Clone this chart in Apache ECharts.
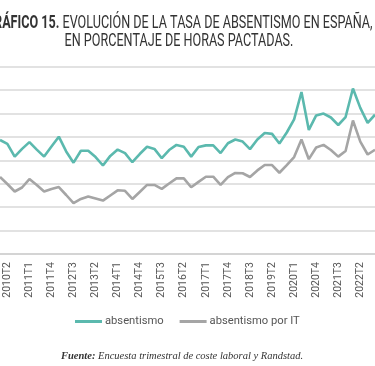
<!DOCTYPE html>
<html><head><meta charset="utf-8">
<script src="https://cdn.jsdelivr.net/npm/echarts@6/dist/echarts.min.js"></script>
<style>html,body{margin:0;padding:0;background:#fff}#c{width:375px;height:366px}</style>
</head><body><div id="c"></div>
<script>
const categories = [
 '2010T1','2010T2','2010T3','2010T4','2011T1','2011T2','2011T3','2011T4',
 '2012T1','2012T2','2012T3','2012T4','2013T1','2013T2','2013T3','2013T4',
 '2014T1','2014T2','2014T3','2014T4','2015T1','2015T2','2015T3','2015T4',
 '2016T1','2016T2','2016T3','2016T4','2017T1','2017T2','2017T3','2017T4',
 '2018T1','2018T2','2018T3','2018T4','2019T1','2019T2','2019T3','2019T4',
 '2020T1','2020T2','2020T3','2020T4','2021T1','2021T2','2021T3','2021T4',
 '2022T1','2022T2','2022T3','2022T4'
];
const absentismo = [
 4.87,4.70,4.16,4.49,4.78,4.46,4.16,4.59,
 5.01,4.38,3.90,4.41,4.41,4.14,3.78,4.19,
 4.46,4.31,3.92,4.27,4.58,4.49,4.09,4.44,
 4.66,4.58,4.16,4.57,4.64,4.64,4.31,4.73,
 4.89,4.80,4.48,4.89,5.17,5.13,4.72,5.19,
 5.75,6.92,5.30,5.92,6.00,5.83,5.51,5.85,
 7.07,6.24,5.60,5.95
];
const absentismoIT = [
 3.29,2.99,2.67,2.84,3.20,2.95,2.67,2.78,
 2.86,2.52,2.17,2.35,2.46,2.37,2.28,2.50,
 2.72,2.70,2.35,2.65,2.95,2.95,2.78,3.01,
 3.23,3.23,2.85,3.08,3.30,3.30,2.95,3.28,
 3.46,3.45,3.29,3.57,3.80,3.80,3.47,3.80,
 4.14,4.89,4.05,4.55,4.66,4.44,4.16,4.40,
 5.70,4.80,4.25,4.45
];
const seriesNames = ['absentismo','absentismo por IT'];
const titleBold = 'GRÁFICO 15.';
const titleRest = ' EVOLUCIÓN DE LA TASA DE ABSENTISMO EN ESPAÑA,';
const titleLine2 = 'EN PORCENTAJE DE HORAS PACTADAS.';
const sourceBold = 'Fuente:';
const sourceRest = ' Encuesta trimestral de coste laboral y Randstad.';

const TF = "Roboto,'Liberation Sans',sans-serif";
const chart = echarts.init(document.getElementById('c'), null, {renderer:'canvas'});
chart.setOption({
  animation:false,
  backgroundColor:'#fff',
  graphic:[
    {type:'text', x:179, y:14, scaleX:0.70, style:{
      text:'{b|'+titleBold+'}{n|'+titleRest+'}', align:'center',
      rich:{b:{fontFamily:TF,fontWeight:'bold',fontSize:18,fill:'#333'},
            n:{fontFamily:TF,fontSize:18,fill:'#333'}}}},
    {type:'text', x:179, y:32, scaleX:0.70, style:{text:titleLine2, align:'center',
      fontFamily:TF, fontSize:18, fill:'#333'}},
    {type:'text', x:182, y:351, style:{
      text:'{b|'+sourceBold+'}{n|'+sourceRest+'}', align:'center',
      rich:{b:{fontFamily:"'Liberation Serif',serif",fontWeight:'bold',fontStyle:'italic',fontSize:10.5,fill:'#333'},
            n:{fontFamily:"'Liberation Serif',serif",fontStyle:'italic',fontSize:10.5,fill:'#333'}}}}
  ],
  legend:{
    data:seriesNames, left:75, top:316, padding:0, icon:'rect', itemWidth:27, itemHeight:3, itemGap:16,
    textStyle:{fontFamily:TF,fontSize:11.2,color:'#555',padding:[0,0,0,-2]}
  },
  grid:{left:-2, right:-4.5, top:66.7, bottom:112, containLabel:false},
  xAxis:{
    type:'category', data:categories, boundaryGap:false,
    axisLine:{lineStyle:{color:'#d4d4d4',width:2}},
    axisTick:{show:false},
    axisLabel:{rotate:90, margin:8, fontFamily:TF, fontSize:10.5, color:'#555',
      interval:function(i){return (i-1)%3===0;}}
  },
  yAxis:{
    type:'value', min:0, max:8, interval:1,
    axisLabel:{show:false}, axisLine:{show:false}, axisTick:{show:false},
    splitLine:{lineStyle:{color:'#d9d9d9',width:1.5}}
  },
  series:[
    {name:seriesNames[0], type:'line', data:absentismo, symbol:'none',
     lineStyle:{color:'#5bb9ae',width:2.6}, itemStyle:{color:'#5bb9ae'}},
    {name:seriesNames[1], type:'line', data:absentismoIT, symbol:'none',
     lineStyle:{color:'#a5a5a5',width:2.6}, itemStyle:{color:'#a5a5a5'}}
  ]
});
</script></body></html>
